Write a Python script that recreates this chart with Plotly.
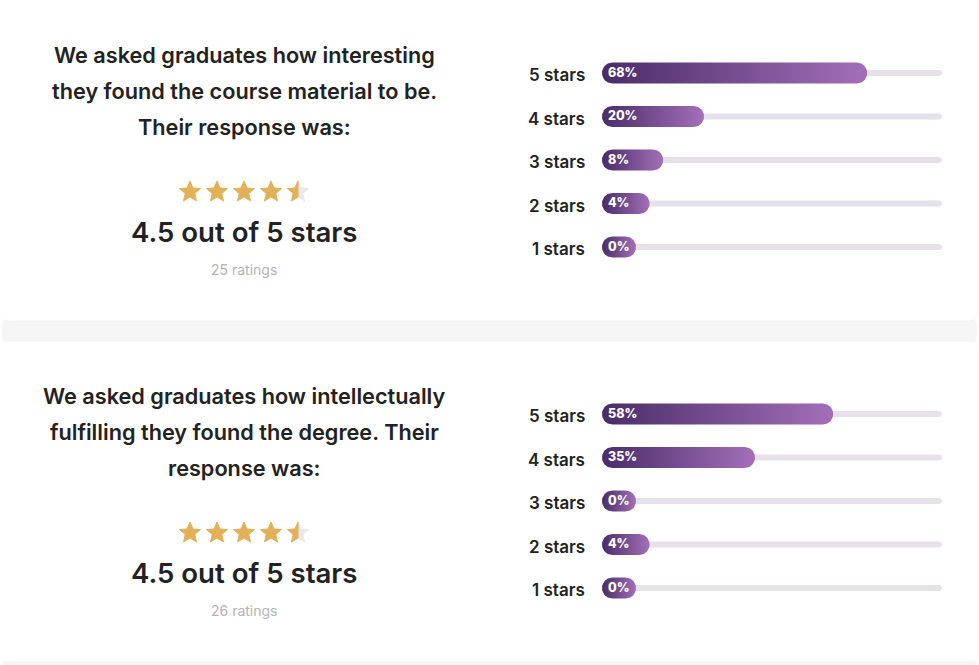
import numpy as np
import plotly.graph_objects as go

W, H = 979, 665

# ---------------- data ----------------
question_lines = [
    ["We asked graduates how interesting",
     "they found the course material to be.",
     "Their response was:"],
    ["We asked graduates how intellectually",
     "fulfilling they found the degree. Their",
     "response was:"],
]
average_ratings = [4.5, 4.5]
rating_counts = [25, 26]
star_levels = [5, 4, 3, 2, 1]
share_course_material = [68, 20, 8, 4, 0]
share_intellectual = [58, 35, 0, 4, 0]
panel_shares = [share_course_material, share_intellectual]

# ---------------- style ----------------
PANEL_TOP = [0, 341]
TEXT_CX = 244
TITLE_BASE = [62.7, 98.7, 134.7]
TITLE_SIZE = 21.7
STAR_Y = 192
STAR_X0, STAR_DX = 190, 27
STAR_R, STAR_r = 11.0, 5.0
AVG_BASE, AVG_SIZE = 241.7, 27.6
CNT_BASE, CNT_SIZE = 274.3, 14
ROW_Y0, ROW_DY = 73, 43.5
TRACK_X0, TRACK_X1 = 602, 942
LABEL_RIGHT = 587
LABEL_SIZE = 17
BAR_HALF = 10.5
TRACK_HALF = 3
BAR_PAD = 10          # extra bar length (in % units) that holds the label
PCT_SIZE = 12.5
GOLD, GREY_STAR = "#e2b157", "#e7e7e7"
C_DARK, C_LIGHT = "#4a2c69", "#a36fb8"
TRACK_COL = "#e5e0ea"
INK = "#222222"
FONT = "Inter"

KX = (TRACK_X1 - TRACK_X0) / 100.0  # px per percent unit


def mid(baseline, size):
    return baseline - 0.36 * size


def pill(x0, x1, yc, h, kx, n=28):
    rx = h / kx
    xs, ys = [], []
    for t in np.linspace(-np.pi / 2, np.pi / 2, n):
        xs.append(x1 - rx + rx * np.cos(t)); ys.append(yc + h * np.sin(t))
    for t in np.linspace(np.pi / 2, 3 * np.pi / 2, n):
        xs.append(x0 + rx + rx * np.cos(t)); ys.append(yc + h * np.sin(t))
    xs.append(xs[0]); ys.append(ys[0])
    return xs, ys


def star_poly(cx, cy, R, r):
    pts = []
    for k in range(10):
        ang = np.deg2rad(-90 + 36 * k)
        rad = R if k % 2 == 0 else r
        pts.append((cx + rad * np.cos(ang), cy + rad * np.sin(ang)))
    return pts


def clip_left(poly, xc):
    out = []
    n = len(poly)
    for i in range(n):
        p, q = poly[i], poly[(i + 1) % n]
        pin, qin = p[0] <= xc, q[0] <= xc
        if pin:
            out.append(p)
        if pin != qin:
            t = (xc - p[0]) / (q[0] - p[0])
            out.append((xc, p[1] + t * (q[1] - p[1])))
    return out


def rrect_path(x0, y0, x1, y1, r):
    return (f"M{x0+r},{y0} L{x1-r},{y0} Q{x1},{y0} {x1},{y0+r} "
            f"L{x1},{y1-r} Q{x1},{y1} {x1-r},{y1} L{x0+r},{y1} "
            f"Q{x0},{y1} {x0},{y1-r} L{x0},{y0+r} Q{x0},{y0} {x0+r},{y0} Z")


fig = go.Figure()
annotations = []
shapes = []

# background shadows and cards
shapes.append(dict(type="path", path=rrect_path(2, 316, 977, 346, 12),
                   fillcolor="#f5f5f5", line=dict(width=0), layer="below",
                   xref="x", yref="y"))
shapes.append(dict(type="path", path=rrect_path(2, 656, 977, 690, 12),
                   fillcolor="#f5f5f5", line=dict(width=0), layer="below",
                   xref="x", yref="y"))
for (y0, y1) in [(-30, 320.5), (341.5, 661.5)]:
    shapes.append(dict(type="path", path=rrect_path(0, y0 + 0.5, 978, y1 + 0.8, 9),
                       fillcolor="#f0f0f0", line=dict(width=0), layer="below",
                       xref="x", yref="y"))
    shapes.append(dict(type="path", path=rrect_path(0, y0, 977.5, y1, 8),
                       fillcolor="#ffffff", line=dict(width=0), layer="below",
                       xref="x", yref="y"))

for pi, top in enumerate(PANEL_TOP):
    # question text
    for li, line in enumerate(question_lines[pi]):
        annotations.append(dict(
            x=TEXT_CX, y=top + mid(TITLE_BASE[li], TITLE_SIZE), xref="x", yref="y",
            text=line, showarrow=False, xanchor="center", yanchor="middle",
            font=dict(family=FONT, size=TITLE_SIZE, color=INK, weight=600)))

    # stars
    rating = average_ratings[pi]
    for k in range(5):
        cx = STAR_X0 + STAR_DX * k
        cy = top + STAR_Y
        poly = star_poly(cx, cy, STAR_R, STAR_r)
        frac = min(max(rating - k, 0.0), 1.0)
        xs = [p[0] for p in poly] + [poly[0][0]]
        ys = [p[1] for p in poly] + [poly[0][1]]
        if frac < 1:
            fig.add_trace(go.Scatter(x=xs, y=ys, fill="toself", fillcolor=GREY_STAR,
                                     mode="lines", line=dict(width=1, color=GREY_STAR),
                                     hoverinfo="skip", xaxis="x", yaxis="y"))
        if frac > 0:
            xmin = min(p[0] for p in poly); xmax = max(p[0] for p in poly)
            part = poly if frac >= 1 else clip_left(poly, xmin + frac * (xmax - xmin))
            pxs = [p[0] for p in part] + [part[0][0]]
            pys = [p[1] for p in part] + [part[0][1]]
            fig.add_trace(go.Scatter(x=pxs, y=pys, fill="toself", fillcolor=GOLD,
                                     mode="lines", line=dict(width=1, color=GOLD),
                                     hoverinfo="skip", xaxis="x", yaxis="y"))

    annotations.append(dict(
        x=TEXT_CX, y=top + mid(AVG_BASE, AVG_SIZE), xref="x", yref="y",
        text=f"{rating:g} out of 5 stars", showarrow=False, xanchor="center",
        yanchor="middle", font=dict(family=FONT, size=AVG_SIZE, color=INK, weight=600)))
    annotations.append(dict(
        x=TEXT_CX, y=top + mid(CNT_BASE, CNT_SIZE), xref="x", yref="y",
        text=f"{rating_counts[pi]} ratings", showarrow=False, xanchor="center",
        yanchor="middle", font=dict(family=FONT, size=CNT_SIZE, color="#b3b3b3", weight=400)))

    # bars
    for ri, (lvl, pct) in enumerate(zip(star_levels, panel_shares[pi])):
        yc = top + ROW_Y0 + ROW_DY * ri
        tx, ty = pill(0, 100, yc, TRACK_HALF, KX)
        fig.add_trace(go.Scatter(x=tx, y=ty, fill="toself", fillcolor=TRACK_COL,
                                 mode="lines", line=dict(width=0, color=TRACK_COL),
                                 hoverinfo="skip", xaxis="x2", yaxis="y", cliponaxis=False))
        bx, by = pill(0, pct + BAR_PAD, yc, BAR_HALF, KX)
        fig.add_trace(go.Scatter(x=bx, y=by, fill="toself",
                                 fillgradient=dict(type="horizontal",
                                                   colorscale=[[0, C_DARK], [1, C_LIGHT]]),
                                 mode="lines", line=dict(width=0, color=C_DARK),
                                 hoverinfo="skip", xaxis="x2", yaxis="y", cliponaxis=False))
        annotations.append(dict(
            x=1.2, y=yc - 1, xref="x2", yref="y", text=f"{pct}%", showarrow=False,
            xanchor="left", yanchor="middle",
            font=dict(family=FONT, size=PCT_SIZE, color="#ffffff", weight=800)))
        annotations.append(dict(
            x=LABEL_RIGHT, y=yc + 8.2 - 0.36 * LABEL_SIZE, xref="x", yref="y",
            text=f"{lvl} stars", showarrow=False, xanchor="right", yanchor="middle",
            font=dict(family=FONT, size=LABEL_SIZE, color=INK, weight=600)))

fig.update_layout(
    width=W, height=H, autosize=False,
    margin=dict(l=0, r=0, t=0, b=0, pad=0),
    paper_bgcolor="#ffffff", plot_bgcolor="rgba(0,0,0,0)",
    showlegend=False, hovermode=False,
    xaxis=dict(range=[0, W], domain=[0, 1], visible=False, fixedrange=True),
    xaxis2=dict(range=[0, 100], domain=[TRACK_X0 / W, TRACK_X1 / W], visible=False,
                fixedrange=True, anchor="y"),
    yaxis=dict(range=[H, 0], domain=[0, 1], visible=False, fixedrange=True),
    annotations=annotations, shapes=shapes,
)

fig.write_html("out.html", config={"displayModeBar": False})
